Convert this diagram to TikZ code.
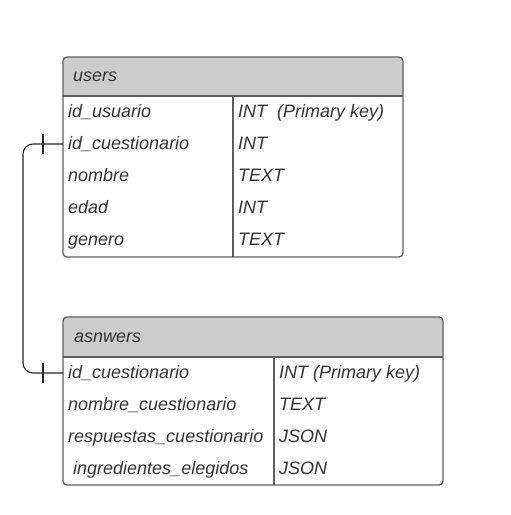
\documentclass[tikz,border=0pt]{standalone}
\usepackage{fontspec}
\setmainfont{Liberation Sans}
\usepackage{tikz}
\definecolor{framegray}{HTML}{5F5F5F}
\definecolor{headgray}{HTML}{CCCCCC}
\definecolor{textgray}{HTML}{333333}
\tikzset{tablebox/.style = {draw=framegray, line width=1.3pt, rounded corners=4pt},
         tableline/.style = {draw=framegray, line width=1.3pt},
         cell/.style = {anchor=west, inner sep=5pt, text height=10pt, text depth=0pt, text=textgray, font=\itshape\fontsize{18}{20}\selectfont},
         link/.style = {draw=black!85, line width=1.1pt, rounded corners=10pt},
         tick/.pic = {\draw[draw=black!85, line width=1.1pt] (0,-#1) -- (0,#1);}}

\begin{document}
\begin{tikzpicture}[x=1pt,y=-1pt]
        \useasboundingbox (0,0) rectangle (511,515);

        % users table
        \fill[headgray, rounded corners=4pt] (63,57) rectangle (403,96);
        \fill[headgray] (63,86) rectangle (403,96);
        \draw[tablebox] (63,57) rectangle (403,257);
        \draw[tableline] (63,96) -- (403,96);
        \draw[tableline] (233,96) -- (233,257);

        \node[cell] (uhead) at (68,76) {users};
        \node[cell] (uid) at (63,112) {id\_usuario};
        \node[cell] (ucq) at (63,144) {id\_cuestionario};
        \node[cell] (unom) at (63,176) {nombre};
        \node[cell] (uedad) at (63,208) {edad};
        \node[cell] (ugen) at (63,240) {genero};
        \node[cell] (uidt) at (233,112) {INT\ \ (Primary key)};
        \node[cell] (ucqt) at (233,144) {INT};
        \node[cell] (unomt) at (233,176) {TEXT};
        \node[cell] (uedadt) at (233,208) {INT};
        \node[cell] (ugent) at (233,240) {TEXT};

        % asnwers table
        \fill[headgray, rounded corners=4pt] (63,317) rectangle (443,357);
        \fill[headgray] (63,347) rectangle (443,357);
        \draw[tablebox] (63,317) rectangle (443,485);
        \draw[tableline] (63,357) -- (443,357);
        \draw[tableline] (274,357) -- (274,485);

        \node[cell] (ahead) at (69,337) {asnwers};
        \node[cell] (acq) at (63,373) {id\_cuestionario};
        \node[cell] (anom) at (63,405) {nombre\_cuestionario};
        \node[cell] (aresp) at (63,437) {respuestas\_cuestionario};
        \node[cell] (aingr) at (63,469) {\ ingredientes\_elegidos};
        \node[cell] (acqt) at (274,373) {INT (Primary key)};
        \node[cell] (anomt) at (274,405) {TEXT};
        \node[cell] (arespt) at (274,437) {JSON};
        \node[cell] (aingrt) at (274,469) {JSON};

        % relation
        \draw[link] (ucq.west) -- ++(-40,0) |- (acq.west);
        \path (ucq.west) ++(-20,0) pic{tick=10};
        \path (acq.west) ++(-20,0) pic{tick=10};
\end{tikzpicture}
\end{document}
